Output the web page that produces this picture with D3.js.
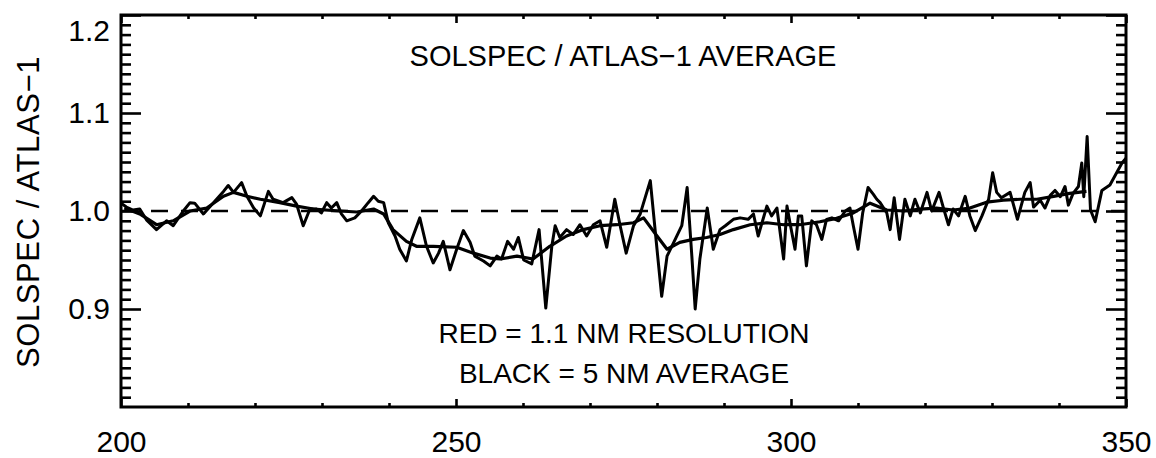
<!DOCTYPE html>
<html>
<head>
<meta charset="utf-8">
<script src="https://cdn.jsdelivr.net/npm/d3@7"></script>
<style>
  html, body { margin: 0; padding: 0; background: #fff; }
  svg { display: block; }
  text { font-family: "Liberation Sans", Arial, Helvetica, sans-serif; fill: #000; }
</style>
</head>
<body>
<svg id="chart" width="1156" height="458"></svg>
<script>
// SOLSPEC / ATLAS-1 ratio, 1.1 nm resolution (wavelength nm, ratio)
const hiresWavelength = [
  200.0, 200.8, 201.8, 202.8, 203.8, 205.3, 206.8, 207.8, 209.3, 210.3,
  211.0, 212.3, 213.8, 215.3, 216.0, 216.8, 218.0, 218.8, 219.8, 220.8,
  222.0, 222.7, 224.2, 225.5, 226.2, 227.2, 228.2, 229.2, 229.9, 230.7,
  231.4, 232.2, 232.9, 233.7, 234.9, 235.9, 236.9, 237.7, 238.4, 239.2,
  239.9, 240.9, 241.6, 242.6, 243.4, 244.6, 245.6, 246.6, 247.4, 248.1,
  249.1, 250.1, 251.1, 252.1, 252.8, 254.1, 255.1, 256.1, 256.8, 257.7,
  258.6, 259.3, 260.1, 261.3, 262.4, 263.4, 264.3, 264.8, 265.5, 266.5,
  267.5, 268.5, 269.5, 270.5, 271.5, 272.5, 273.7, 274.5, 275.4, 276.5,
  277.5, 279.0, 280.0, 280.7, 281.5, 282.5, 283.7, 284.5, 285.2, 285.7,
  286.4, 287.5, 288.4, 289.4, 290.2, 291.4, 292.4, 293.6, 294.4, 295.1,
  296.4, 297.1, 297.9, 298.9, 299.4, 299.9, 300.6, 301.1, 301.6, 302.3,
  303.1, 303.8, 304.6, 305.3, 306.1, 307.1, 308.1, 308.8, 309.3, 310.0,
  310.7, 311.5, 312.3, 312.8, 313.3, 314.3, 314.8, 315.4, 316.2, 317.0,
  317.8, 318.5, 319.3, 320.3, 321.0, 322.1, 322.8, 323.5, 324.2, 325.0,
  326.0, 326.7, 327.5, 328.5, 329.5, 330.1, 330.7, 331.4, 332.7, 333.8,
  334.9, 335.7, 336.2, 337.2, 337.9, 338.7, 339.4, 340.2, 340.9, 341.4,
  342.1, 342.9, 343.4, 343.7, 344.2, 344.7, 345.4, 346.4, 347.6, 349.4,
  350.0
];
const hiresRatio = [
  1.008, 1.004, 1.001, 1.002, 0.991, 0.981, 0.990, 0.985, 1.000, 1.0085,
  1.008, 0.997, 1.0085, 1.020, 1.026, 1.019, 1.029, 1.015, 1.003, 0.995,
  1.020, 1.012, 1.0085, 1.0136, 1.007, 0.985, 1.002, 1.002, 0.998, 1.0085,
  1.003, 1.0085, 0.997, 0.990, 0.993, 1.000, 1.0085, 1.015, 1.010, 1.0085,
  0.988, 0.9745, 0.961, 0.949, 0.971, 0.993, 0.964, 0.947, 0.957, 0.969,
  0.940, 0.961, 0.980, 0.968, 0.954, 0.949, 0.944, 0.954, 0.951, 0.969,
  0.961, 0.973, 0.950, 0.946, 0.981, 0.901, 0.964, 0.985, 0.973, 0.981,
  0.976, 0.986, 0.9745, 0.986, 0.990, 0.963, 1.012, 0.985, 0.957, 0.985,
  0.997, 1.031, 0.961, 0.913, 0.954, 0.968, 0.985, 1.024, 0.954, 0.900,
  0.951, 1.003, 0.961, 0.981, 0.985, 0.9915, 0.993, 0.9915, 0.997, 0.9745,
  1.005, 0.995, 1.003, 0.951, 1.005, 0.986, 0.961, 0.995, 0.995, 0.944,
  0.990, 0.986, 0.971, 0.9915, 0.993, 0.990, 1.000, 1.003, 0.985, 0.961,
  0.998, 1.024, 1.017, 1.012, 1.0085, 0.998, 0.981, 1.0136, 0.971, 1.012,
  0.995, 1.012, 0.998, 1.019, 1.000, 1.019, 1.002, 0.986, 1.002, 0.995,
  1.015, 0.995, 0.980, 0.995, 1.012, 1.039, 1.019, 1.0136, 1.019, 0.9915,
  1.019, 1.029, 1.004, 1.011, 1.003, 1.016, 1.021, 1.0146, 1.025, 1.006,
  1.018, 1.025, 1.049, 1.0146, 1.076, 1.001, 0.989, 1.021, 1.0265, 1.049,
  1.054
];

// 5 nm running average of the same ratio
const avgWavelength = [
  200.5, 202.8, 205.3, 207.8, 210.3, 212.8, 215.3, 216.8, 218.8, 220.8,
  223.7, 226.2, 228.7, 232.7, 235.2, 237.7, 239.2, 240.6, 242.6, 244.1,
  246.6, 250.1, 252.6, 255.1, 256.6, 259.1, 261.5, 264.0, 266.5, 269.0,
  271.5, 274.0, 276.5, 278.0, 280.0, 281.5, 283.4, 285.4, 287.4, 289.4,
  291.4, 293.9, 296.4, 298.9, 301.3, 304.3, 306.8, 309.3, 311.8, 314.3,
  316.8, 319.3, 321.7, 324.2, 326.7, 329.2, 331.7, 334.2, 336.7, 339.2,
  341.6, 344.1
];
const avgRatio = [
  1.003, 0.997, 0.986, 0.990, 1.000, 1.003, 1.015, 1.019, 1.015, 1.012,
  1.0085, 1.005, 1.002, 1.000, 0.999, 1.002, 0.997, 0.981, 0.969, 0.964,
  0.964, 0.963, 0.957, 0.952, 0.951, 0.954, 0.951, 0.964, 0.9745, 0.981,
  0.985, 0.986, 0.988, 0.993, 0.9745, 0.961, 0.968, 0.971, 0.973, 0.976,
  0.981, 0.986, 0.988, 0.986, 0.986, 0.989, 0.9925, 0.998, 1.008, 1.001,
  1.000, 1.002, 1.003, 1.001, 1.003, 1.009, 1.011, 1.012, 1.012, 1.015,
  1.018, 1.020
];

// Axis ticks
const xMajorTicks = [200, 250, 300, 350];
const xMinorTicks = [210, 220, 230, 240, 260, 270, 280, 290, 310, 320, 330, 340];
const yLabelTicks = [0.9, 1.0, 1.1, 1.2];
const yMinorTicks = d3.range(81, 120).filter(v => v % 10 !== 0).map(v => v / 100);

const referenceLevel = 1.0;

const titleText = "SOLSPEC / ATLAS\u22121 AVERAGE";
const yAxisTitle = "SOLSPEC / ATLAS\u22121";
const legendLines = ["RED = 1.1 NM RESOLUTION", "BLACK = 5 NM AVERAGE"];

// ---------------------------------------------------------------------------
const plotLeft = 121, plotRight = 1126, plotTop = 15, plotBottom = 407;

const x = d3.scaleLinear().domain([200, 350]).range([plotLeft, plotRight]);
const y = d3.scaleLinear().domain([0.8, 1.2]).range([plotBottom, plotTop]);

const svg = d3.select("#chart");
svg.append("rect").attr("width", 1156).attr("height", 458).attr("fill", "#fff");

const fontSize = 30;

function styleAxis(g) {
  g.select(".domain").remove();
  g.selectAll(".tick line").attr("stroke", "#000").attr("stroke-width", 2.6);
  g.selectAll(".tick text")
    .attr("font-family", "Liberation Sans, Arial, sans-serif")
    .attr("font-size", fontSize)
    .attr("fill", "#000");
}

// Left axis: labelled majors + minors
svg.append("g").attr("transform", `translate(${plotLeft},0)`)
  .call(d3.axisLeft(y).tickValues(yLabelTicks).tickSize(-20).tickPadding(11)
    .tickFormat(d3.format(".1f")))
  .call(styleAxis)
  .call(g => g.selectAll(".tick text")
    .filter(d => d === 1.2).attr("dy", "0.85em"));
svg.append("g").attr("transform", `translate(${plotLeft},0)`)
  .call(d3.axisLeft(y).tickValues(yMinorTicks).tickSize(-10).tickFormat(""))
  .call(styleAxis);

// Right axis
svg.append("g").attr("transform", `translate(${plotRight},0)`)
  .call(d3.axisRight(y).tickValues(yLabelTicks).tickSize(-20).tickFormat(""))
  .call(styleAxis);
svg.append("g").attr("transform", `translate(${plotRight},0)`)
  .call(d3.axisRight(y).tickValues(yMinorTicks).tickSize(-10).tickFormat(""))
  .call(styleAxis);

// Bottom axis
svg.append("g").attr("transform", `translate(0,${plotBottom})`)
  .call(d3.axisBottom(x).tickValues(xMajorTicks).tickSize(-8).tickPadding(24)
    .tickFormat(d3.format("d")))
  .call(styleAxis);
svg.append("g").attr("transform", `translate(0,${plotBottom})`)
  .call(d3.axisBottom(x).tickValues(xMinorTicks).tickSize(-4).tickFormat(""))
  .call(styleAxis);

// Top axis
svg.append("g").attr("transform", `translate(0,${plotTop})`)
  .call(d3.axisTop(x).tickValues(xMajorTicks).tickSize(-8).tickFormat(""))
  .call(styleAxis);
svg.append("g").attr("transform", `translate(0,${plotTop})`)
  .call(d3.axisTop(x).tickValues(xMinorTicks).tickSize(-4).tickFormat(""))
  .call(styleAxis);

// Frame
svg.append("rect")
  .attr("x", plotLeft).attr("y", plotTop)
  .attr("width", plotRight - plotLeft).attr("height", plotBottom - plotTop)
  .attr("fill", "none").attr("stroke", "#000").attr("stroke-width", 3);

// Dashed unity line
svg.append("line")
  .attr("x1", x(200)).attr("x2", x(350))
  .attr("y1", y(referenceLevel)).attr("y2", y(referenceLevel))
  .attr("stroke", "#000").attr("stroke-width", 2.6)
  .attr("stroke-dasharray", "17,13");

const plot = svg.append("g");

const line = d3.line().x(d => x(d[0])).y(d => y(d[1]));

plot.append("path")
  .datum(d3.zip(avgWavelength, avgRatio))
  .attr("d", line)
  .attr("fill", "none").attr("stroke", "#000")
  .attr("stroke-width", 3.2).attr("stroke-linejoin", "round");

plot.append("path")
  .datum(d3.zip(hiresWavelength, hiresRatio))
  .attr("d", line)
  .attr("fill", "none").attr("stroke", "#000")
  .attr("stroke-width", 3).attr("stroke-linejoin", "round");

// Titles
svg.append("text")
  .attr("x", 623).attr("y", 66)
  .attr("text-anchor", "middle")
  .attr("font-size", 29)
  .text(titleText);

svg.append("text")
  .attr("transform", "translate(39,212) rotate(-90)")
  .attr("text-anchor", "middle")
  .attr("font-size", 31)
  .attr("letter-spacing", 0.6)
  .text(yAxisTitle);

svg.selectAll("text.legend")
  .data(legendLines)
  .enter().append("text")
  .attr("class", "legend")
  .attr("x", 624)
  .attr("y", (d, i) => 343 + i * 40)
  .attr("text-anchor", "middle")
  .attr("font-size", 28)
  .text(d => d);
</script>
</body>
</html>
